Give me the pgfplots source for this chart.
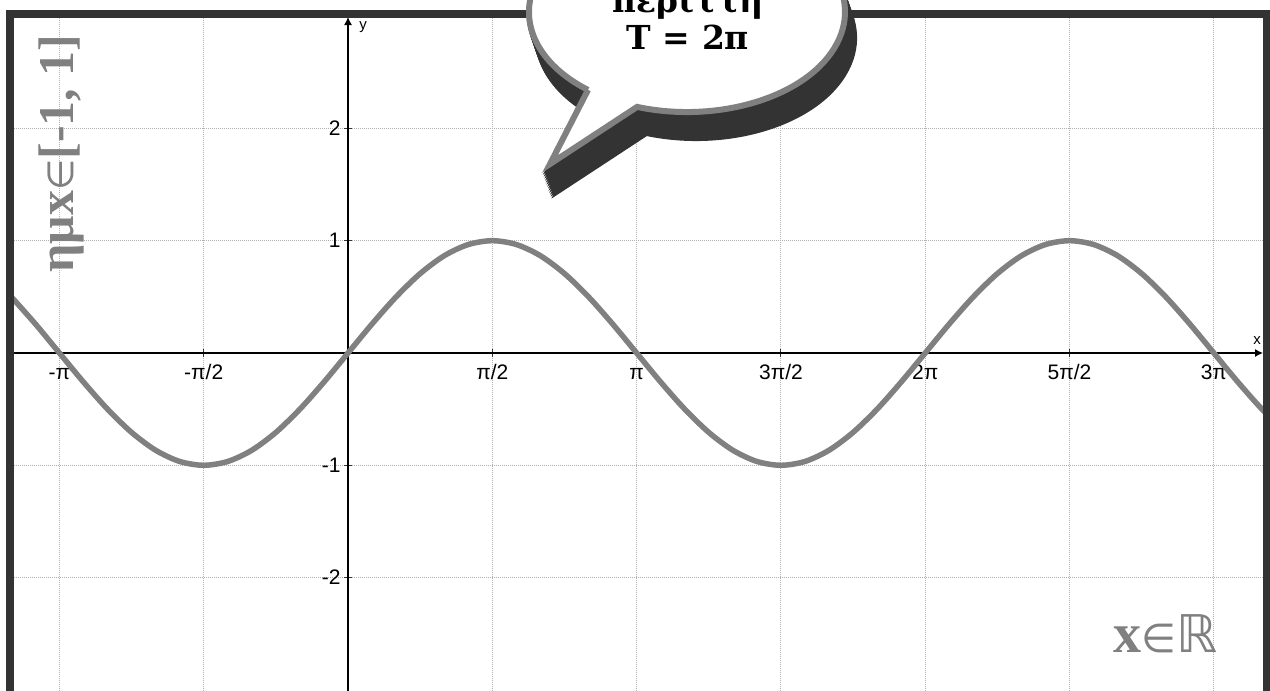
\documentclass[border=0pt]{standalone}
\usepackage{pgfplots}
\pgfplotsset{compat=1.18}
\usepackage{pgfplotstable}
\usepackage{fontspec}
\setmainfont{Liberation Serif}
\newfontfamily\arialf{Liberation Sans}
\newfontfamily\dejavu{DejaVu Sans}
\newfontfamily\bubblefont{DejaVu Serif}
\usetikzlibrary{arrows.meta}
\definecolor{framegray}{HTML}{333333}
\definecolor{curvegray}{HTML}{808080}
\definecolor{gridgray}{HTML}{B0B0B0}

% y = sin x, sampled every pi/12
\pgfplotstableread{
x y
-3.6652 0.5
-3.4034 0.2588
-3.1416 0
-2.8798 -0.2588
-2.6180 -0.5
-2.3562 -0.7071
-2.0944 -0.8660
-1.8326 -0.9659
-1.5708 -1
-1.3090 -0.9659
-1.0472 -0.8660
-0.7854 -0.7071
-0.5236 -0.5
-0.2618 -0.2588
0 0
0.2618 0.2588
0.5236 0.5
0.7854 0.7071
1.0472 0.8660
1.3090 0.9659
1.5708 1
1.8326 0.9659
2.0944 0.8660
2.3562 0.7071
2.6180 0.5
2.8798 0.2588
3.1416 0
3.4034 -0.2588
3.6652 -0.5
3.9270 -0.7071
4.1888 -0.8660
4.4506 -0.9659
4.7124 -1
4.9742 -0.9659
5.2360 -0.8660
5.4978 -0.7071
5.7596 -0.5
6.0214 -0.2588
6.2832 0
6.5450 0.2588
6.8068 0.5
7.0686 0.7071
7.3304 0.8660
7.5922 0.9659
7.8540 1
8.1158 0.9659
8.3776 0.8660
8.6394 0.7071
8.9012 0.5
9.1630 0.2588
9.4248 0
9.6866 -0.2588
9.9484 -0.5
10.2102 -0.7071
}\sinetable

\begin{document}
\begin{tikzpicture}
\useasboundingbox (0,0) rectangle (635pt,-345.5pt);
\clip (0,0) rectangle (635pt,-345.5pt);
\begin{axis}[
  at={(7pt,-8.5pt)}, anchor=north west,
  scale only axis, width=624.5pt, height=337pt,
  xmin=-3.636, xmax=9.960, ymin=-3.010, ymax=2.992,
  axis lines=middle,
  axis line style={black, line width=0.6pt},
  every inner x axis line/.append style={-{Latex[length=4pt,width=4pt]}},
  every inner y axis line/.append style={-{Latex[length=4pt,width=4pt]}},
  xtick={-3.14159,-1.5708,1.5708,3.14159,4.71239,6.28319,7.85398,9.42478},
  xticklabels={-π,-π/2,π/2,π,3π/2,2π,5π/2,3π},
  ytick={-2,-1,1,2},
  yticklabels={-2,-1,1,2},
  tick style={black!80, line width=0.5pt},
  major tick length=4pt, tick align=center,
  ticklabel style={font=\arialf\fontsize{10.5}{12}\selectfont},
  xticklabel style={anchor=base, yshift=-11.5pt},
  yticklabel style={inner sep=1.5pt},
  grid=major,
  grid style={gridgray, line width=0.5pt, dash pattern=on 0.5pt off 0.5pt},
]
\addplot[curvegray, line width=2.75pt, smooth] table {\sinetable};
\end{axis}
\begin{scope}[x=0.5pt, y=-0.5pt]
  % outer frame
  \draw[framegray, line width=4pt] (10,720) -- (10,13.5) -- (1267,13.5) -- (1267,720);
  % axis names
  \node[font=\arialf\fontsize{7.5}{9}\selectfont, inner sep=0pt] at (1257,341) {x};
  \node[font=\arialf\fontsize{7.5}{9}\selectfont, inner sep=0pt] at (363,27) {y};
  % range of the sine
  \node[rotate=90, anchor=base west, text=curvegray, inner sep=0pt] at (73,273)
    {\fontsize{25}{30}\selectfont\bfseries ημx{\dejavu\mdseries\fontsize{18}{20}\selectfont ∈}[-1, 1]};
  % domain
  \node[anchor=base west, inner sep=0pt, text=curvegray] at (1113,652)
    {\fontsize{28}{32}\selectfont\bfseries x{\dejavu\mdseries\fontsize{20}{24}\selectfont ∈}{\dejavu\mdseries\fontsize{26}{30}\selectfont ℝ}};
  % speech bubble: extruded shadow, then the bubble itself
  \foreach \i in {1,...,13} {
    \filldraw[framegray, line width=3pt, shift={(0.7*\i,2*\i)}]
      (588.0,89.9) -- (550,164) -- (637.1,106.9)
      arc[start angle=108.4, end angle=-231.2, x radius=158, y radius=100] -- cycle;
  }
  \filldraw[draw=curvegray, fill=white, line width=3pt]
    (588.0,89.9) -- (550,164) -- (637.1,106.9)
    arc[start angle=108.4, end angle=-231.2, x radius=158, y radius=100] -- cycle;
  \node[font=\bubblefont\bfseries\fontsize{16.5}{20}\selectfont, anchor=base, inner sep=0pt] at (688,12) {περιττή};
  \node[font=\bubblefont\bfseries\fontsize{16.5}{20}\selectfont, anchor=base, inner sep=0pt] at (688,49) {T = 2π};
\end{scope}
\end{tikzpicture}
\end{document}
